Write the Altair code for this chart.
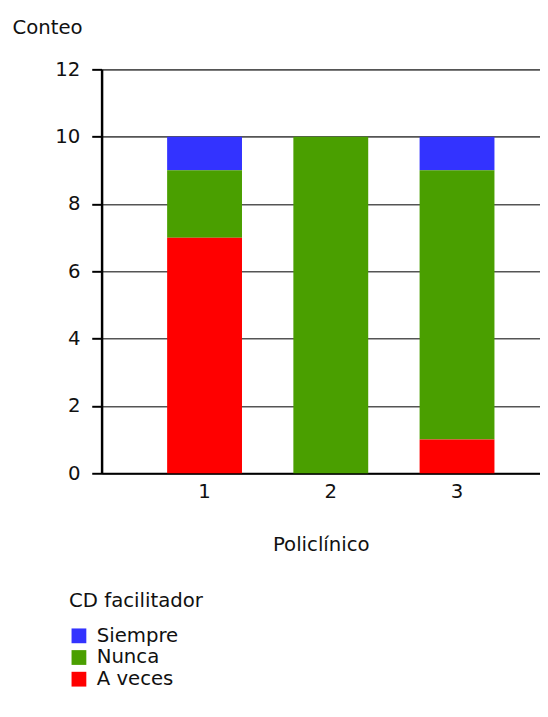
import altair as alt
import pandas as pd

policlinico = ["1", "1", "1", "2", "2", "2", "3", "3", "3"]
facilitador = ["Siempre", "Nunca", "A veces"] * 3
conteo = [1, 2, 7, 0, 10, 0, 1, 8, 1]
orden = [3, 2, 1] * 3

cat_order = ["Siempre", "Nunca", "A veces"]
cat_colors = ["#3333FF", "#4A9F00", "#FF0000"]

df = pd.DataFrame({
    "Policlínico": policlinico,
    "CD facilitador": facilitador,
    "Conteo": conteo,
    "orden": orden,
})

FONT = "DejaVu Sans"
FS = 20

chart = alt.Chart(df).mark_bar().encode(
    x=alt.X("Policlínico:N",
            scale=alt.Scale(paddingInner=0.407, paddingOuter=0.44, align=0.59, round=False),
            axis=alt.Axis(labelAngle=0, title="Policlínico", ticks=False,
                          labelPadding=9, titleY=78, titleBaseline="alphabetic",
                          domainColor="black", domainWidth=2,
                          labelFont=FONT, labelFontSize=FS, labelColor="#111",
                          titleFont=FONT, titleFontSize=FS, titleFontWeight="normal",
                          titleColor="#111")),
    y=alt.Y("Conteo:Q", stack="zero",
            scale=alt.Scale(domain=[0, 12], nice=False),
            axis=alt.Axis(values=[0, 2, 4, 6, 8, 10, 12], title="Conteo",
                          titleAngle=0, titleAlign="left", titleBaseline="alphabetic",
                          titleX=-91, titleY=-36,
                          tickSize=10, tickColor="black", tickWidth=2,
                          labelPadding=12,
                          domainColor="black", domainWidth=2.5,
                          grid=True, gridColor="#555", gridWidth=1.6,
                          labelFont=FONT, labelFontSize=FS, labelColor="#111",
                          titleFont=FONT, titleFontSize=FS, titleFontWeight="normal",
                          titleColor="#111")),
    color=alt.Color("CD facilitador:N",
                    scale=alt.Scale(domain=cat_order, range=cat_colors),
                    legend=alt.Legend(orient="none", legendX=-33, legendY=530,
                                      symbolType="square", symbolSize=225,
                                      symbolStrokeWidth=0, rowPadding=2,
                                      titleFont=FONT, titleFontSize=FS,
                                      titleFontWeight="normal", titleColor="#111",
                                      titlePadding=15,
                                      labelFont=FONT, labelFontSize=FS,
                                      labelColor="#111", labelOffset=8)),
    order=alt.Order("orden:Q"),
).properties(
    width=445, height=410,
    autosize=alt.AutoSizeParams(type="none"),
    padding={"left": 95, "top": 57, "right": 0, "bottom": 235},
).configure_view(stroke=None).configure(background="white")

chart.save("out.html", embed_options={"renderer": "svg", "actions": False})
